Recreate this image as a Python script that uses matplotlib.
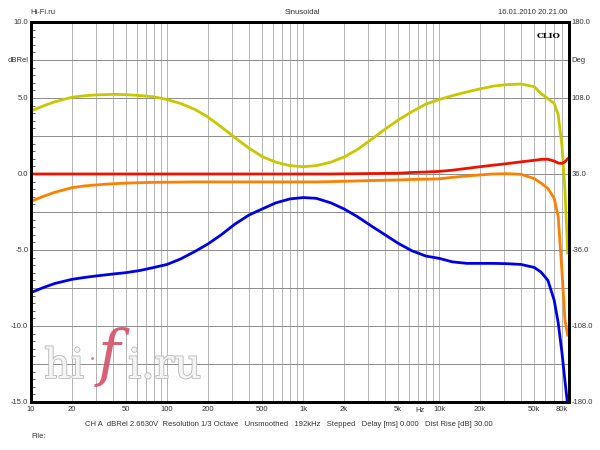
import matplotlib
matplotlib.use("Agg")
import matplotlib.pyplot as plt
import matplotlib.patheffects as pe
from matplotlib.transforms import blended_transform_factory

# frequency points (Hz), shared by all traces
FREQ = [10, 12.5, 15, 20, 25, 30, 40, 50, 63, 80, 100, 125, 160, 200, 250, 315,
        400, 500, 630, 800, 1000, 1250, 1600, 2000, 2500, 3150, 4000, 5000, 6300,
        8000, 10000, 12500, 16000, 20000, 25000, 31500, 40000, 50000, 56000,
        63000, 70000, 75000, 80000, 84000, 88000]

YELLOW = [4.15, 4.5, 4.75, 5.05, 5.15, 5.2, 5.24, 5.22, 5.16, 5.08, 4.9, 4.65,
          4.25, 3.75, 3.1, 2.4, 1.7, 1.15, 0.78, 0.55, 0.48, 0.55, 0.78, 1.12,
          1.6, 2.25, 2.95, 3.55, 4.1, 4.6, 4.9, 5.15, 5.4, 5.6, 5.78, 5.88,
          5.92, 5.74, 5.3, 4.95, 4.65, 3.9, 1.8, -1.0, -5.2]

RED = [0.0, 0.0, 0.0, 0.0, 0.0, 0.0, 0.0, 0.0, 0.0, 0.0, 0.0, 0.0, 0.0, 0.0,
       0.0, 0.0, 0.0, 0.0, 0.0, 0.0, 0.0, 0.0, 0.0, 0.01, 0.02, 0.03, 0.04,
       0.05, 0.1, 0.13, 0.17, 0.25, 0.37, 0.48, 0.58, 0.68, 0.8, 0.9, 0.96,
       0.97, 0.85, 0.72, 0.7, 0.8, 1.0]

ORANGE = [-1.8, -1.45, -1.2, -0.9, -0.78, -0.72, -0.64, -0.6, -0.57, -0.55,
          -0.54, -0.53, -0.52, -0.52, -0.52, -0.52, -0.52, -0.52, -0.52, -0.52,
          -0.52, -0.52, -0.5, -0.48, -0.46, -0.43, -0.41, -0.39, -0.36, -0.34,
          -0.32, -0.22, -0.13, -0.06, 0.0, 0.02, -0.02, -0.3, -0.6, -0.95,
          -1.6, -2.8, -6.5, -9.6, -10.6]

BLUE = [-7.8, -7.45, -7.2, -6.93, -6.8, -6.71, -6.58, -6.49, -6.35, -6.15,
        -5.95, -5.6, -5.1, -4.6, -4.0, -3.3, -2.7, -2.3, -1.9, -1.64, -1.55,
        -1.6, -1.9, -2.3, -2.8, -3.4, -4.0, -4.56, -5.05, -5.4, -5.55, -5.78,
        -5.88, -5.88, -5.88, -5.9, -5.95, -6.15, -6.45, -7.0, -8.3, -9.8,
        -11.8, -13.6, -15.2]

LEFT_TICKS = [10, 7.5, 5, 2.5, 0, -2.5, -5, -7.5, -10, -12.5, -15]
LEFT_LABELS = ["10.0", "dBRel", "5.0", "", "0.0", "", "-5.0", "", "-10.0", "", "-15.0"]
RIGHT_LABELS = ["180.0", "Deg", "108.0", "", "36.0", "", "-36.0", "", "-108.0", "", "-180.0"]

X_TICKS = [10, 20, 50, 100, 200, 500, 1000, 2000, 5000, 10000, 20000, 50000, 80000]
X_LABELS = ["10", "20", "50", "100", "200", "500", "1k", "2k", "5k", "10k", "20k", "50k", "80k"]

plt.rcParams["font.family"] = ["Liberation Sans", "DejaVu Sans"]
TXT = "#333333"
FS = 5.5

fig = plt.figure(figsize=(6, 4.5), dpi=100)
ax = fig.add_axes([31 / 600, 48 / 450, 538 / 600, 380 / 450])

# grid: every 1..9 x decade vertically, every 2.5 dB horizontally
for dec in [10, 100, 1000, 10000]:
    for m in range(1, 10):
        f = dec * m
        if 10 < f < 90000:
            ax.axvline(f, color="#b4b4b4", lw=0.7, zorder=1)
for y in LEFT_TICKS:
    ax.axhline(y, color="#8c8c8c", lw=0.7, zorder=1)

ax.plot(FREQ, YELLOW, color="#c8c800", lw=2.0, zorder=3)
ax.plot(FREQ, ORANGE, color="#ff7f00", lw=2.0, zorder=4)
ax.plot(FREQ, RED, color="#ee1100", lw=2.0, zorder=5)
ax.plot(FREQ, BLUE, color="#0000e6", lw=2.0, zorder=6)

ax.set_xscale("log")
ax.set_xlim(10, 90000)
ax.set_ylim(-15, 10)

ax.set_xticks(X_TICKS)
ax.set_xticklabels(X_LABELS)
ax.xaxis.set_minor_locator(matplotlib.ticker.NullLocator())
ax.tick_params(axis="x", length=0, pad=3, labelsize=FS, labelcolor=TXT)

ax.set_yticks(LEFT_TICKS)
ax.set_yticklabels(LEFT_LABELS)
ax.yaxis.set_minor_locator(matplotlib.ticker.MultipleLocator(0.5))
ax.tick_params(axis="y", which="major", length=0, pad=2, labelsize=FS, labelcolor=TXT)
ax.tick_params(axis="y", which="minor", direction="in", length=3, width=0.6,
               color="#444444", right=True)

ax2 = ax.twinx()
ax2.set_ylim(-15, 10)
ax2.set_yticks(LEFT_TICKS)
ax2.set_yticklabels(RIGHT_LABELS)
ax2.tick_params(axis="y", length=0, pad=2, labelsize=FS, labelcolor=TXT)

for a in (ax, ax2):
    for s in a.spines.values():
        s.set_linewidth(2.0)
        s.set_color("black")

trans = blended_transform_factory(ax.transData, ax.transAxes)
ax.text(7200, -0.012, "Hz", transform=trans, ha="center", va="top",
        fontsize=FS, color=TXT)
ax.text(0.962, 0.975, "CLIO", transform=ax.transAxes, ha="center", va="top",
        fontsize=6, fontweight="bold", family="DejaVu Serif", color="black", zorder=8)

# header / footer
fig.text(30 / 600, 1 - 12 / 450, "Hi-Fi.ru", fontsize=FS, color=TXT, va="center")
fig.text(302 / 600, 1 - 12 / 450, "Sinusoidal", fontsize=FS, color=TXT,
         va="center", ha="center")
fig.text(567 / 600, 1 - 12 / 450, "16.01.2010 20.21.00", fontsize=FS, color=TXT,
         va="center", ha="right")
fig.text(289 / 600, 1 - 424 / 450,
         "CH A  dBRel 2.6630V  Resolution 1/3 Octave   Unsmoothed   192kHz   "
         "Stepped   Delay [ms] 0.000   Dist Rise [dB] 30.00",
         fontsize=FS, color=TXT, va="center", ha="center")
fig.text(31 / 600, 1 - 436 / 450, "File:", fontsize=FS, color=TXT, va="center")

# watermark
outline = [pe.withStroke(linewidth=1.2, foreground="#b8b8b8")]
fig.text(44 / 600, 1 - 378 / 450, "hi", fontsize=30, family="DejaVu Serif",
         color="#f4f4f4", path_effects=outline, zorder=0)
fig.text(92 / 600, 1 - 366 / 450, "\u00b7", fontsize=16, family="DejaVu Serif",
         color="#d88090", ha="center", zorder=0)
fig.text(98 / 600, 1 - 374 / 450, "f", fontsize=44, family="DejaVu Serif",
         style="italic", color="#d45068", alpha=0.9, zorder=0)
fig.text(128 / 600, 1 - 378 / 450, "i.ru", fontsize=30, family="DejaVu Serif",
         color="#f4f4f4", path_effects=outline, zorder=0)

fig.savefig("out.png", dpi=100, facecolor="white")
